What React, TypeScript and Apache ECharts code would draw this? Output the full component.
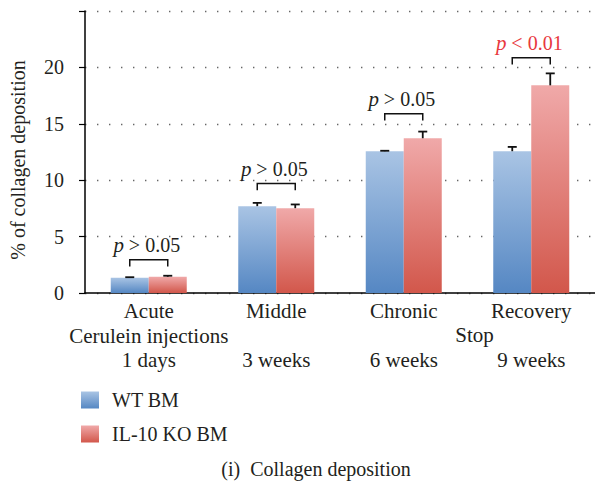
import React, { useEffect, useRef } from "react";
import * as echarts from "echarts";

const categories = [
  "Acute\nCerulein injections\n1 days",
  "Middle\n \n3 weeks",
  "Chronic\n \n6 weeks",
  "Recovery\n \n9 weeks",
];
const seriesNames = ["WT BM", "IL-10 KO BM"];
const wtValues = [1.36, 7.7, 12.57, 12.57];
const koValues = [1.44, 7.52, 13.72, 18.41];
const wtErrors = [0.04, 0.29, 0.04, 0.38];
const koErrors = [0.09, 0.33, 0.59, 1.06];
const bracketTops = [2.95, 9.7, 15.9, 20.85];
const pLabels = ["p > 0.05", "p > 0.05", "p > 0.05", "p < 0.01"];
const significant = [false, false, false, true];
const yTicks = [0, 5, 10, 15, 20, 25];
const stopLabel = "Stop";
const chartTitle = "(i)  Collagen deposition";
const yName = "% of collagen deposition";

const FONT = "Liberation Serif";
const TEXT = "#231f20";
const RED_TEXT = "#e8383d";
const BAR_W = 38;

const blueGrad = new echarts.graphic.LinearGradient(0, 0, 0, 1, [
  { offset: 0, color: "#a9c4e4" },
  { offset: 1, color: "#5587c3" },
]);
const redGrad = new echarts.graphic.LinearGradient(0, 0, 0, 1, [
  { offset: 0, color: "#f0a9a9" },
  { offset: 1, color: "#d2574b" },
]);

export default function App() {
  const ref = useRef<HTMLDivElement>(null);
  useEffect(() => {
    const chart = echarts.init(ref.current!, null, { renderer: "svg" });
    const errData: any[] = [];
    wtValues.forEach((v, i) => errData.push([i, v, wtErrors[i], -1]));
    koValues.forEach((v, i) => errData.push([i, v, koErrors[i], 1]));
    const bracketData = bracketTops.map((t, i) => [i, t]);

    chart.setOption({
      animation: false,
      backgroundColor: "#ffffff",
      textStyle: { fontFamily: FONT, color: TEXT },
      title: {
        text: chartTitle,
        left: 311,
        textAlign: "center",
        top: 454,
        textStyle: { fontFamily: FONT, fontSize: 20, fontWeight: "normal", color: TEXT },
      },
      legend: {
        orient: "vertical",
        left: 76,
        top: 385,
        itemWidth: 18,
        itemHeight: 17,
        itemGap: 14,
        icon: "rect",
        data: seriesNames,
        textStyle: { fontFamily: FONT, fontSize: 20, color: TEXT, padding: [0, 0, 0, 8], lineHeight: 17 },
      },
      grid: { left: 82, right: -10.7, top: 11, bottom: 481 - 293, containLabel: false },
      xAxis: {
        type: "category",
        data: categories,
        axisLine: { lineStyle: { color: "#000", width: 1.5 } },
        axisTick: { show: false },
        axisLabel: {
          fontFamily: FONT,
          fontSize: 21,
          color: TEXT,
          lineHeight: 24.5,
          margin: 6,
          interval: 0,
        },
      },
      yAxis: {
        type: "value",
        min: 0,
        max: 25,
        interval: 5,
        name: yName,
        nameLocation: "middle",
        nameRotate: 90,
        nameGap: 57,
        nameTextStyle: { fontFamily: FONT, fontSize: 20, color: TEXT, padding: [0, 16, 0, 0] },
        axisLine: { show: true, lineStyle: { color: "#000", width: 1.5 } },
        axisTick: { show: true, length: 6, lineStyle: { color: "#000", width: 1.2 } },
        axisLabel: {
          fontFamily: FONT,
          fontSize: 20,
          color: TEXT,
          margin: 21,
          formatter: (v: number) => (yTicks.indexOf(v) >= 0 && v !== 25 ? String(v) : ""),
        },
        splitLine: {
          show: true,
          lineStyle: { color: "#666", width: 1.4, type: [1.4, 10.6] },
        },
      },
      graphic: [
        {
          type: "text",
          x: 474.5,
          y: 335,
          style: {
            text: stopLabel,
            fontFamily: FONT,
            fontSize: 21,
            fill: TEXT,
            textAlign: "center",
            textVerticalAlign: "middle",
            align: "center",
            verticalAlign: "middle",
          },
        },
      ],
      series: [
        {
          name: seriesNames[0],
          type: "bar",
          data: wtValues,
          barWidth: BAR_W,
          barGap: "0%",
          itemStyle: { color: blueGrad },
          z: 2,
        },
        {
          name: seriesNames[1],
          type: "bar",
          data: koValues,
          barWidth: BAR_W,
          barGap: "0%",
          itemStyle: { color: redGrad },
          z: 2,
        },
        {
          type: "custom",
          data: errData,
          z: 3,
          silent: true,
          renderItem: (params: any, api: any) => {
            const idx = api.value(0);
            const v = api.value(1);
            const e = api.value(2);
            const side = api.value(3);
            const base = api.coord([idx, v]);
            const top = api.coord([idx, v + e]);
            const x = base[0] + side * (BAR_W / 2);
            return {
              type: "group",
              children: [
                {
                  type: "line",
                  shape: { x1: x, y1: base[1], x2: x, y2: top[1] },
                  style: { stroke: "#111", lineWidth: 1.8 },
                },
                {
                  type: "line",
                  shape: { x1: x - 4.5, y1: top[1], x2: x + 4.5, y2: top[1] },
                  style: { stroke: "#111", lineWidth: 1.8 },
                },
              ],
            };
          },
        },
        {
          type: "custom",
          data: bracketData,
          z: 4,
          silent: true,
          renderItem: (params: any, api: any) => {
            const idx = api.value(0);
            const t = api.value(1);
            const i = params.dataIndex;
            const topPt = api.coord([idx, t]);
            const legPt = api.coord([idx, t - 0.6]);
            const textPt = api.coord([idx, t + 1.28]);
            const xl = topPt[0] - BAR_W / 2;
            const xr = topPt[0] + BAR_W / 2;
            const color = significant[i] ? RED_TEXT : TEXT;
            const parts = pLabels[i].split(" ");
            return {
              type: "group",
              children: [
                {
                  type: "polyline",
                  shape: {
                    points: [
                      [xl, legPt[1]],
                      [xl, topPt[1]],
                      [xr, topPt[1]],
                      [xr, legPt[1]],
                    ],
                  },
                  style: { stroke: "#111", lineWidth: 1.5, fill: null },
                },
                {
                  type: "text",
                  x: topPt[0] - 2,
                  y: textPt[1],
                  style: {
                    text: "{i|" + parts[0] + "}{n| " + parts.slice(1).join(" ") + "}",
                    rich: {
                      i: { fontStyle: "italic", fontFamily: FONT, fontSize: 21, fill: color },
                      n: { fontFamily: FONT, fontSize: 20, fill: color },
                    },
                    fontFamily: FONT,
                    fontSize: 20,
                    fill: color,
                    align: "center",
                    verticalAlign: "middle",
                  },
                },
              ],
            };
          },
        },
      ],
    });
    return () => chart.dispose();
  }, []);
  return (
    <div
      ref={ref}
      style={{ position: "absolute", left: 0, top: 0, width: 595, height: 481 }}
    />
  );
}
